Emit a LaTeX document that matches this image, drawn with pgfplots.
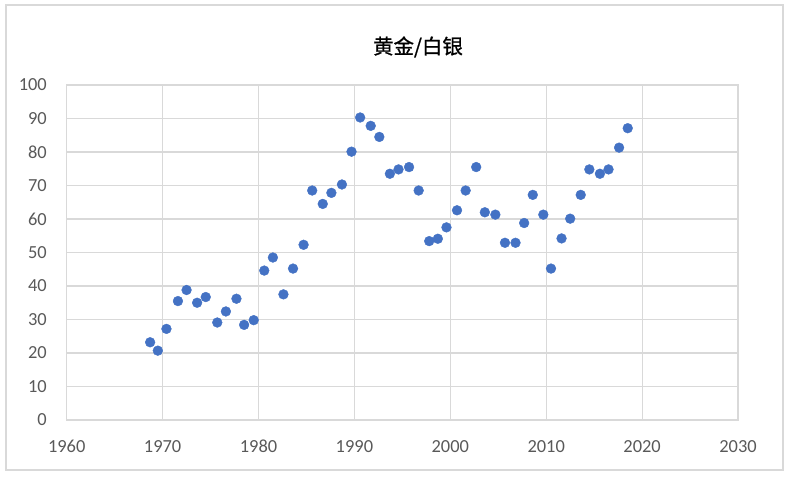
\documentclass[border=0pt]{standalone}
\usepackage{fontspec}
\setmainfont{Carlito}
\newfontfamily\cjk[FakeBold=1]{Noto Sans CJK SC}
\usepackage{pgfplots}
\pgfplotsset{compat=1.18}

\definecolor{dotblue}{RGB}{68,114,196}
\definecolor{gridgray}{RGB}{217,217,217}
\definecolor{ticktext}{RGB}{89,89,89}

\begin{document}
\begin{tikzpicture}[x=1bp,y=1bp]
% page = 795 x 478 px, origin at the plot's lower left corner
\path[use as bounding box] (-66.7,-58) rectangle (728.3,420);
\draw[gridgray, line width=1.2bp] (-60.7,-50) rectangle (716.3,415);
\node[font=\cjk\fontsize{20.5}{24}\selectfont, text=black] at (351.3,373) {黄金/白银};
\begin{axis}[
    at={(0,0)}, anchor=origin,
    scale only axis,
    width=671.3bp, height=335bp,
    xmin=1960, xmax=2030,
    ymin=0, ymax=100,
    xtick={1960,1970,...,2030},
    ytick={0,10,...,100},
    grid=major,
    major grid style={gridgray, line width=1.1bp},
    axis line style={gridgray, line width=1.1bp},
    major tick length=0pt,
    tick label style={font=\fontsize{18.5}{22}\selectfont, text=ticktext, inner sep=0pt},
    xticklabel style={anchor=center, yshift=-26.7bp},
    yticklabel style={anchor=east, xshift=-19.7bp},
    /pgf/number format/1000 sep={},
    /pgf/number format/assume math mode=true,
    clip=false,
]
\addplot[only marks, mark=*, mark size=4.9bp, mark options={fill=dotblue, draw=dotblue}] coordinates {
    (1968.7,23.2) (1969.5,20.7) (1970.4,27.2) (1971.6,35.5) (1972.5,38.8)
    (1973.6,35.0) (1974.5,36.7) (1975.7,29.1) (1976.6,32.4) (1977.7,36.2)
    (1978.5,28.4) (1979.5,29.8) (1980.6,44.6) (1981.5,48.5) (1982.6,37.5)
    (1983.6,45.2) (1984.7,52.3) (1985.6,68.5) (1986.7,64.5) (1987.6,67.8)
    (1988.7,70.3) (1989.7,80.1) (1990.6,90.3) (1991.7,87.8) (1992.6,84.5)
    (1993.7,73.5) (1994.6,74.8) (1995.7,75.5) (1996.7,68.5) (1997.8,53.4)
    (1998.7,54.1) (1999.6,57.5) (2000.7,62.6) (2001.6,68.5) (2002.7,75.5)
    (2003.6,62.0) (2004.7,61.3) (2005.7,52.9) (2006.8,52.9) (2007.7,58.8)
    (2008.6,67.2) (2009.7,61.3) (2010.5,45.2) (2011.6,54.2) (2012.5,60.1)
    (2013.6,67.2) (2014.5,74.8) (2015.6,73.5) (2016.5,74.8) (2017.6,81.3)
    (2018.5,87.1)
};
\end{axis}
\end{tikzpicture}
\end{document}
